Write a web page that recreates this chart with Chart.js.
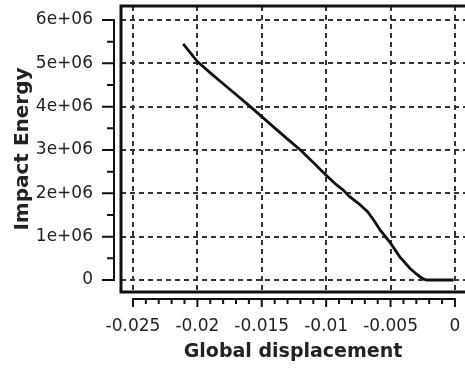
<!DOCTYPE html>
<html>
<head>
<meta charset="utf-8">
<script src="https://cdn.jsdelivr.net/npm/chart.js@4"></script>
<style>
  html, body { margin: 0; padding: 0; background: #fff; }
  #wrap { width: 465px; height: 372px; }
</style>
</head>
<body>
<div id="wrap"><canvas id="chart"></canvas></div>
<script>
// data
const displacement = [-0.0211, -0.0200, -0.0190, -0.0180, -0.0170, -0.0160, -0.0150, -0.0140,
  -0.0130, -0.0120, -0.0110, -0.0100, -0.0093, -0.0087, -0.0082, -0.0075, -0.0068, -0.0063,
  -0.0058, -0.0050, -0.0043, -0.0035, -0.0030, -0.0027, -0.0024, -0.0022, -0.0010, -0.0001];
const energy = [5.45e6, 5.04e6, 4.78e6, 4.53e6, 4.28e6, 4.03e6, 3.77e6, 3.51e6,
  3.25e6, 3.00e6, 2.71e6, 2.42e6, 2.22e6, 2.08e6, 1.93e6, 1.77e6, 1.58e6, 1.38e6,
  1.15e6, 0.85e6, 0.54e6, 0.27e6, 0.14e6, 0.07e6, 0.02e6, 0, 0, 0];
const xTicks = [-0.025, -0.02, -0.015, -0.01, -0.005, 0];
const yTicks = [0, 1e6, 2e6, 3e6, 4e6, 5e6, 6e6];

const points = displacement.map((x, i) => ({ x: x, y: energy[i] }));

// frame + offset axis lines with major/minor ticks
const axesPlugin = {
  id: 'axes',
  afterDraw(chart) {
    const { ctx, chartArea: a, scales: { x, y } } = chart;
    ctx.save();
    ctx.strokeStyle = '#111';
    ctx.lineWidth = 3;
    ctx.strokeRect(a.left, a.top, a.right - a.left + 20, a.bottom - a.top);

    ctx.lineWidth = 2;
    // y axis
    const ax = a.left - 7;
    ctx.beginPath();
    ctx.moveTo(ax, y.getPixelForValue(yTicks[0]));
    ctx.lineTo(ax, y.getPixelForValue(yTicks[yTicks.length - 1]));
    yTicks.forEach((v, i) => {
      const py = y.getPixelForValue(v);
      ctx.moveTo(ax - 12, py); ctx.lineTo(ax + 1, py);
      if (i < yTicks.length - 1) {
        const pm = y.getPixelForValue((v + yTicks[i + 1]) / 2);
        ctx.moveTo(ax - 7, pm); ctx.lineTo(ax, pm);
      }
    });
    // x axis
    const ay = a.bottom + 7;
    ctx.moveTo(x.getPixelForValue(xTicks[0]), ay);
    ctx.lineTo(x.getPixelForValue(xTicks[xTicks.length - 1]), ay);
    xTicks.forEach((v, i) => {
      const px = x.getPixelForValue(v);
      ctx.moveTo(px, ay - 1); ctx.lineTo(px, ay + 8);
      if (i < xTicks.length - 1) {
        const step = (xTicks[i + 1] - v) / 5;
        for (let k = 1; k < 5; k++) {
          const pm = x.getPixelForValue(v + step * k);
          ctx.moveTo(pm, ay); ctx.lineTo(pm, ay + 5);
        }
      }
    });
    ctx.stroke();
    ctx.restore();
  }
};

Chart.defaults.font.family = 'DejaVu Sans';
Chart.defaults.color = '#222';

new Chart(document.getElementById('chart'), {
  type: 'line',
  data: {
    datasets: [{
      data: points,
      borderColor: '#111',
      borderWidth: 2.8,
      pointRadius: 0,
      tension: 0
    }]
  },
  options: {
    responsive: true,
    maintainAspectRatio: false,
    animation: false,
    layout: { padding: { top: 6, left: 0, right: 0, bottom: 0 } },
    plugins: { legend: { display: false }, tooltip: { enabled: false } },
    scales: {
      x: {
        type: 'linear',
        min: -0.02593,
        max: 0.00078,
        afterBuildTicks: s => { s.ticks = xTicks.map(v => ({ value: v })); },
        afterFit: s => { s.height = 80; s.paddingLeft = 0; s.paddingRight = 0; },
        grid: { color: '#333', lineWidth: 2, drawTicks: false },
        border: { display: false, dash: [5, 4] },
        ticks: {
          padding: 24,
          maxRotation: 0,
          autoSkip: false,
          font: { size: 17 },
          callback: v => String(Number(v.toFixed(3)))
        },
        title: {
          display: true,
          text: 'Global displacement',
          font: { size: 19, weight: 'bold' },
          padding: { top: 0, bottom: 9 }
        }
      },
      y: {
        type: 'linear',
        min: -0.277e6,
        max: 6.323e6,
        afterBuildTicks: s => { s.ticks = yTicks.map(v => ({ value: v })); },
        afterFit: s => { s.width = 121; s.paddingTop = 0; s.paddingBottom = 0; },
        grid: { color: '#333', lineWidth: 2, drawTicks: false },
        border: { display: false, dash: [5, 4] },
        ticks: {
          padding: 28,
          autoSkip: false,
          font: { size: 17 },
          callback: v => v === 0 ? '0' : (v / 1e6) + 'e+06'
        },
        title: {
          display: true,
          text: 'Impact Energy',
          font: { size: 20, weight: 'bold' },
          padding: { top: 11, bottom: 0 }
        }
      }
    }
  },
  plugins: [axesPlugin]
});
</script>
</body>
</html>
